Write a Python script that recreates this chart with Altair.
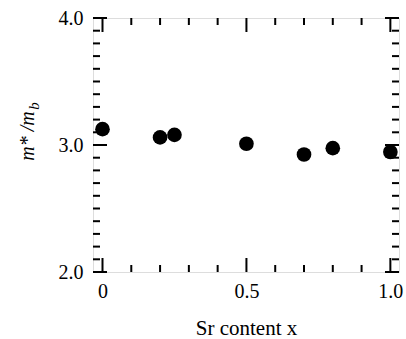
import altair as alt
import pandas as pd

# data
sr_x = [0.0, 0.2, 0.25, 0.5, 0.7, 0.8, 1.0]
mass_ratio = [3.125, 3.06, 3.08, 3.01, 2.925, 2.975, 2.945]

x_major = [0.0, 0.5, 1.0]
x_minor = [0.1, 0.2, 0.3, 0.4, 0.6, 0.7, 0.8, 0.9]
y_major = [2.0, 3.0, 4.0]
y_minor = [2.1, 2.2, 2.3, 2.4, 2.5, 2.6, 2.7, 2.8, 2.9, 3.1, 3.2, 3.3, 3.4, 3.5, 3.6, 3.7, 3.8, 3.9]

W, H = 306, 254
FONT = "'Times New Roman', 'Liberation Serif', serif"
XDOM = [-0.033, 1.03]
YDOM = [2.0, 4.0]
MAJ, MIN = 14, 7

df = pd.DataFrame({"x": sr_x, "y": mass_ratio})
xs = alt.Scale(domain=XDOM, nice=False, zero=False)
ys = alt.Scale(domain=YDOM, nice=False, zero=False)

points = alt.Chart(df).mark_circle(size=215, color="black", opacity=1).encode(
    x=alt.X("x:Q", scale=xs,
            axis=alt.Axis(values=x_major, title="Sr content x", ticks=False, domain=False, grid=False,
                          labelExpr="datum.value == 0 ? '0' : format(datum.value, '.1f')",
                          labelFont=FONT, labelFontSize=20, labelColor="black", labelPadding=9,
                          titleFont=FONT, titleFontSize=21, titleFontWeight="normal", titleColor="black",
                          titlePadding=16)),
    y=alt.Y("y:Q", scale=ys,
            axis=alt.Axis(values=y_major, format=".1f", title=None, ticks=False, domain=False, grid=False,
                          labelFont=FONT, labelFontSize=20, labelColor="black", labelPadding=10)),
)

def xticks(vals, length):
    d = pd.DataFrame({"v": vals})
    bot = alt.Chart(d).mark_rule(color="black", strokeWidth=2).encode(
        x=alt.X("v:Q", scale=xs), y=alt.value(H), y2=alt.value(H - length))
    top = alt.Chart(d).mark_rule(color="black", strokeWidth=2).encode(
        x=alt.X("v:Q", scale=xs), y=alt.value(0), y2=alt.value(length))
    return [bot, top]

def yticks(vals, length):
    d = pd.DataFrame({"v": vals})
    left = alt.Chart(d).mark_rule(color="black", strokeWidth=2).encode(
        y=alt.Y("v:Q", scale=ys), x=alt.value(0), x2=alt.value(length))
    right = alt.Chart(d).mark_rule(color="black", strokeWidth=2).encode(
        y=alt.Y("v:Q", scale=ys), x=alt.value(W), x2=alt.value(W - length))
    return [left, right]

t_main = alt.Chart(pd.DataFrame({"t": ["m*\u00a0/m"]})).mark_text(
    font=FONT, fontSize=20, fontStyle="italic", angle=270, align="center", baseline="middle", color="black"
).encode(x=alt.value(-65), y=alt.value(118), text="t:N")
t_sub = alt.Chart(pd.DataFrame({"t": ["b"]})).mark_text(
    font=FONT, fontSize=15, fontStyle="italic", angle=270, align="center", baseline="middle", color="black"
).encode(x=alt.value(-59), y=alt.value(88), text="t:N")

layers = xticks(x_major, MAJ) + xticks(x_minor, MIN) + yticks(y_major, MAJ) + yticks(y_minor, MIN) + [points, t_main, t_sub]

chart = alt.layer(*layers).properties(
    width=W, height=H,
    autosize=alt.AutoSizeParams(type="none"),
    padding={"left": 93, "top": 18, "right": 7, "bottom": 67},
).configure_view(stroke="black", strokeWidth=2.2).configure(background="white")

chart.save("out.html", embed_options={"renderer": "svg", "actions": False})
